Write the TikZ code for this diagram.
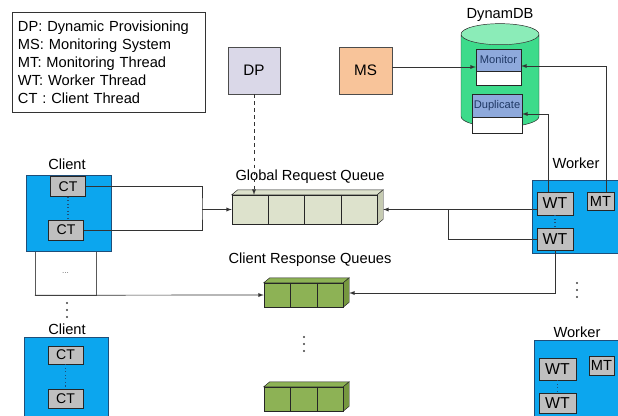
\documentclass[tikz,border=0pt]{standalone}
\usepackage{fontspec}
\setmainfont{Liberation Sans}
\usepackage{tikz}
\usetikzlibrary{
  arrows,
  arrows.meta,
  calc,
  positioning,
  shapes.geometric
}
\tikzset{>=latex}
\definecolor{dpfill}{HTML}{DAD8E8}
\definecolor{msfill}{HTML}{F8C49A}
\definecolor{dbgreen}{HTML}{3DDB8B}
\definecolor{dbtop}{HTML}{8BECB8}
\definecolor{tblblue}{HTML}{8EA9DB}
\definecolor{tbltext}{HTML}{1F3864}
\definecolor{procblue}{HTML}{0CA6EE}
\definecolor{procedge}{HTML}{1F4E79}
\definecolor{thrgray}{HTML}{BFBFBF}
\definecolor{grqfill}{HTML}{DDE2CC}
\definecolor{grqside}{HTML}{C6CBB2}
\definecolor{crqfill}{HTML}{8DB255}
\definecolor{crqside}{HTML}{76973F}
\tikzset{
  lbl/.style={font=\fontsize{12.5}{15}\selectfont},
  legend/.style={draw=black!80, align=left, text width=5.43cm,
    minimum height=3cm, inner xsep=0.18cm,
    font=\fontsize{12.5}{15.3}\selectfont},
  box/.style={draw=black!70, minimum width=1.56cm, minimum height=1.41cm,
    font=\fontsize{13}{15}\selectfont},
  dbcyl/.style={cylinder, shape border rotate=90, draw=black!85, aspect=2.7,
    minimum width=2.34cm, minimum height=3.1cm, cylinder uses custom fill,
    cylinder body fill=dbgreen, cylinder end fill=dbtop},
  tblhead/.style={draw=black!85, fill=tblblue, inner sep=0pt, text=tbltext,
    font=\fontsize{9.5}{11}\selectfont},
  tblbody/.style={draw=black!85, fill=white, inner sep=0pt},
  proc/.style={draw=procedge, fill=procblue},
  thr/.style={draw=black!85, fill=thrgray, inner sep=0pt,
    minimum width=1.05cm, minimum height=0.6cm,
    font=\fontsize{12}{14}\selectfont},
  wthr/.style={thr, minimum width=1.08cm, minimum height=0.69cm,
    font=\fontsize{13.5}{15}\selectfont},
  mthr/.style={thr, minimum width=0.81cm, minimum height=0.54cm,
    font=\fontsize{12.5}{14}\selectfont},
  more/.style={draw=black!65, minimum width=1.83cm, minimum height=1.32cm,
    text=black!60, font=\scriptsize},
  queue/.style={draw=black!85, inner sep=0pt},
  link/.style={draw=black!80, line width=0.6pt},
  vdots/.style={draw=procedge, dotted, line width=1pt}
}
% 3D faces and cells of a queue drawn on its front node
\newcommand{\drawqueue}[4]{%
  \filldraw[fill=#4, draw=black!85] (#1.north west) -- ++(6,-5)
    -- ($(#1.north east)+(6,-5)$) -- (#1.north east) -- cycle;
  \filldraw[fill=#3, draw=black!85] (#1.north east) -- ++(6,-5)
    -- ($(#1.south east)+(6,-5)$) -- (#1.south east) -- cycle;
  \foreach \k in {1,...,#2}
    \draw[black!85] ($(#1.north west)!\k/#2!(#1.north east)$)
      -- ($(#1.south west)!\k/#2!(#1.south east)$);
}

\begin{document}
\begin{tikzpicture}[x=0.03cm,y=-0.03cm]
  \useasboundingbox (0,0) rectangle (618,415);
  % legend
  \node[legend] (legend) at (108.5,62) {DP: Dynamic Provisioning\\MS: Monitoring System\\MT: Monitoring Thread\\WT: Worker Thread\\CT : Client Thread};
  % dynamic provisioning and monitoring system
  \node[box, fill=dpfill] (dp) at (254,70.5) {DP};
  \node[box, fill=msfill, minimum width=1.59cm] (ms) at (365.5,70.5) {MS};
  % database
  \node[lbl] (dblbl) at (500,15) {DynamDB};
  \node[dbcyl] (db) at (500,83) {};
  \node[tblhead, minimum width=1.35cm, minimum height=0.66cm] (mon) at (498.5,60) {Monitor};
  \node[tblbody, minimum width=1.35cm, minimum height=0.42cm, below=0pt of mon] (monbody) {};
  \node[tblhead, minimum width=1.5cm, minimum height=0.69cm] (dup) at (497,105.5) {Duplicate};
  \node[tblbody, minimum width=1.5cm, minimum height=0.48cm, below=0pt of dup] (dupbody) {};
  % queues
  \node[lbl] (grqlbl) at (310,177) {Global Request Queue};
  \node[queue, fill=grqfill, minimum width=4.35cm, minimum height=0.87cm] (grq) at (304.5,209.5) {};
  \drawqueue{grq}{4}{grqside}{grqfill}
  \node[lbl] (crqlbl) at (310,260) {Client Response Queues};
  \node[queue, fill=crqfill, minimum width=2.37cm, minimum height=0.72cm] (crq) at (303.5,295) {};
  \drawqueue{crq}{3}{crqside}{crqfill}
  \node[queue, fill=crqfill, minimum width=2.37cm, minimum height=0.72cm] (crqb) at (303.5,399) {};
  \drawqueue{crqb}{3}{crqside}{crqfill}
  % clients
  \node[lbl] (cllbl) at (67,164) {Client};
  \node[more] (more) at (65.5,273) {...};
  \node[proc, minimum width=2.55cm, minimum height=2.28cm] (cl) at (68.5,213) {};
  \node[thr] (ct1) at (68,186.5) {CT};
  \node[thr] (ct2) at (66,230) {CT};
  \draw[vdots] (ct1.south) -- (ct1.south |- ct2.north);
  \node[lbl] (clblbl) at (67,329) {Client};
  \node[proc, minimum width=2.52cm, minimum height=2.4cm] (clb) at (66,377) {};
  \node[thr, minimum height=0.54cm] (ct3) at (65.5,355) {CT};
  \node[thr, minimum height=0.57cm] (ct4) at (65.5,398.5) {CT};
  \draw[vdots] (ct3.south) -- (ct4.north);
  % workers
  \node[lbl] (wklbl) at (576,163) {Worker};
  \node[proc, minimum width=2.64cm, minimum height=2.19cm] (wk) at (576,216.5) {};
  \node[wthr] (wt1) at (555,203.5) {WT};
  \node[wthr, minimum height=0.66cm] (wt2) at (555,239) {WT};
  \node[mthr] (mt) at (600.5,201) {MT};
  \draw[vdots] (wt1.south) -- (wt2.north);
  \node[lbl] (wkblbl) at (577,332) {Worker};
  \node[proc, minimum width=2.58cm, minimum height=2.4cm] (wkb) at (577,380) {};
  \node[wthr, minimum width=1.11cm, minimum height=0.66cm] (wt3) at (557.5,369) {WT};
  \node[wthr, minimum width=1.11cm, minimum height=0.6cm] (wt4) at (557.5,403) {WT};
  \node[mthr, minimum width=0.75cm, minimum height=0.57cm] (mt2) at (601.5,365.5) {MT};
  \draw[vdots] (wt3.south) -- (wt4.north);
  % connectors
  \draw[link, dashed, ->] (dp.south) -- (dp.south |- grq.north);
  \draw[link, ->] ($(ms.east)+(0,-3.5)$) -- ($(mon.west)+(0,7)$);
  \draw[link, ->] ($(mt.north)+(5.5,0)$) |- ($(mon.east)+(0,6)$);
  \draw[link, ->] ($(wt1.north)+(-7,0)$) |- ($(dup.east)+(0,8.5)$);
  \coordinate (cjoin) at (202,209.5);
  \draw[link] (ct1.east) -| (cjoin) |- (ct2.east);
  \draw[link, ->] (cjoin) -- (grq.west);
  \coordinate (wjoin) at (448,209.5);
  \draw[link, ->] ($(wt1.west)+(0,6)$) -- ($(grq.east)+(6,0)$);
  \draw[link] (wt2.west) -| (wjoin);
  \draw[link, ->] (more.south west) -- (crq.west);
  \draw[link, ->] (wt2.south) |- ($(crq.east)+(6,-2)$);
  % vertical dots
  \foreach \y in {303,310,317} \fill[black!75] (67,\y) circle (0.9pt);
  \foreach \y in {337,344,351} \fill[black!75] (304,\y) circle (0.9pt);
  \foreach \y in {283,290,297} \fill[black!75] (577,\y) circle (0.9pt);
\end{tikzpicture}
\end{document}
